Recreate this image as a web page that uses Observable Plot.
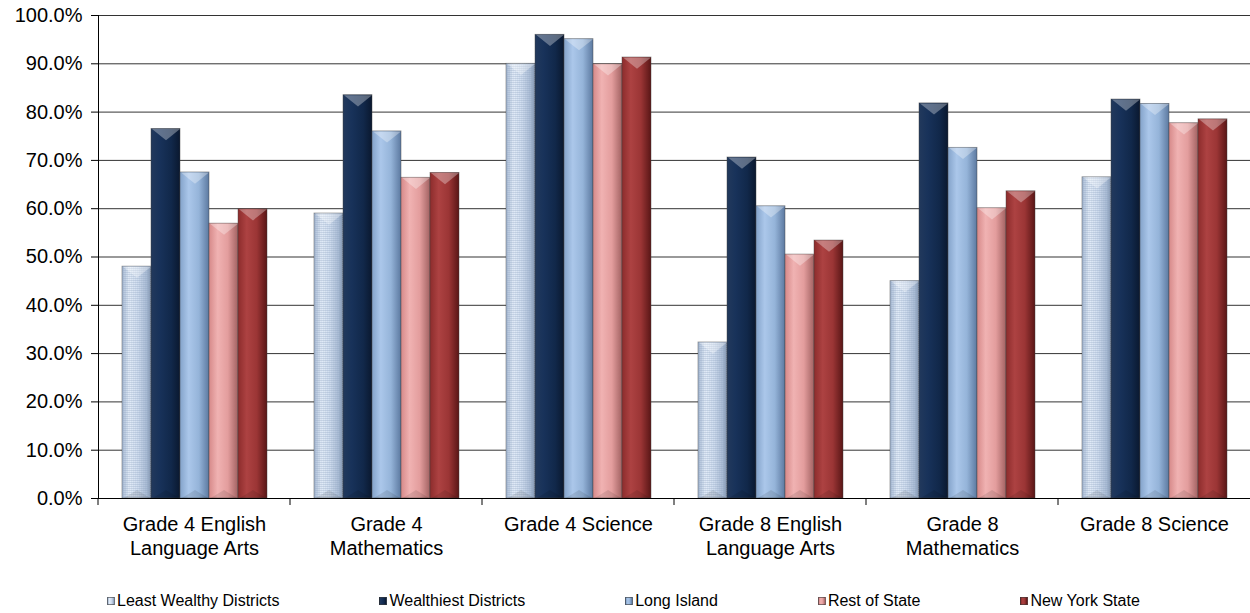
<!DOCTYPE html>
<html><head><meta charset="utf-8">
<script src="https://cdn.jsdelivr.net/npm/d3@7"></script>
<script src="https://cdn.jsdelivr.net/npm/@observablehq/plot@0.6"></script>
<style>
body{margin:0;background:#fff;font-family:"Liberation Sans",Arial,sans-serif;}
#chart{width:1250px;height:613px;position:relative;overflow:hidden;}
.legend{display:flex;gap:100px;padding-left:107px;margin-top:21px;font-size:16px;line-height:20px;color:#000;white-space:nowrap;}
.legend .item{display:flex;align-items:center;}
.legend .sw{width:8px;height:8px;margin-right:2px;box-sizing:border-box;border:0.5px solid rgba(60,60,60,0.6);}
</style></head><body><div id="chart"></div>
<script>
const categories = ["Grade 4 English Language Arts", "Grade 4 Mathematics", "Grade 4 Science", "Grade 8 English Language Arts", "Grade 8 Mathematics", "Grade 8 Science"];
const tickLabels = ["Grade 4 English\nLanguage Arts", "Grade 4\nMathematics", "Grade 4 Science", "Grade 8 English\nLanguage Arts", "Grade 8\nMathematics", "Grade 8 Science"];
const series = ["Least Wealthy Districts", "Wealthiest Districts", "Long Island", "Rest of State", "New York State"];
const leastWealthy = [0.480, 0.590, 0.900, 0.323, 0.450, 0.665];
const wealthiest   = [0.765, 0.835, 0.960, 0.706, 0.818, 0.826];
const longIsland   = [0.675, 0.760, 0.951, 0.605, 0.726, 0.817];
const restOfState  = [0.569, 0.664, 0.899, 0.505, 0.601, 0.777];
const newYorkState = [0.599, 0.674, 0.913, 0.534, 0.636, 0.785];
const yTicks = [0, 0.1, 0.2, 0.3, 0.4, 0.5, 0.6, 0.7, 0.8, 0.9, 1.0];

const seriesValues = [leastWealthy, wealthiest, longIsland, restOfState, newYorkState];
const data = [];
categories.forEach((c, ci) => series.forEach((s, si) => data.push({category: c, series: s, value: seriesValues[si][ci]})));

// gradient stops (style)
const gradStops = [
  [["0", "#a6b9d3"], ["0.25", "#e3ecf8"], ["0.55", "#d0ddef"], ["0.85", "#a9bbd4"], ["1", "#8092ad"]],
  [["0", "#22395c"], ["0.3", "#18325a"], ["0.7", "#11284a"], ["1", "#0a182f"]],
  [["0", "#84a3ca"], ["0.3", "#abc7ea"], ["0.65", "#95b4d9"], ["1", "#5c79a0"]],
  [["0", "#d68989"], ["0.3", "#f0b2b2"], ["0.65", "#e39d9d"], ["1", "#a26262"]],
  [["0", "#8c2c2c"], ["0.3", "#ad4242"], ["0.65", "#9b3535"], ["1", "#591616"]]
];

const bevelTop = {draw(ctx, size) { const r = Math.sqrt(size / Math.PI); ctx.moveTo(-r, 0); ctx.lineTo(r, 0); ctx.lineTo(0, r * 0.8); ctx.closePath(); }};
const bevelBottom = {draw(ctx, size) { const r = Math.sqrt(size / Math.PI); ctx.moveTo(-r, 0); ctx.lineTo(r, 0); ctx.lineTo(0, -r * 0.6); ctx.closePath(); }};

const boundaryTicks = (index, scales, values, dims) => {
  const x0 = scales.x && scales.x.range ? scales.x.range()[0] : dims.marginLeft;
  const yb = scales.y(0);
  const g = d3.create("svg:g");
  g.append("line").attr("x1", x0).attr("x2", x0).attr("y1", yb).attr("y2", yb + 7).attr("stroke", "#000");
  return g.node();
};

const svg = Plot.plot({
  width: 1250, height: 570,
  marginLeft: 97, marginRight: 0, marginTop: 15, marginBottom: 72,
  style: {fontFamily: "'Liberation Sans', Arial, sans-serif", fontSize: "20px", color: "#000", background: "#fff"},
  fx: {domain: categories, padding: 0, label: null},
  x: {domain: series, paddingInner: 0, paddingOuter: 0.78, axis: null},
  y: {domain: [0, 1], label: null},
  color: {domain: series, range: series.map((_, i) => `url(#grad${i})`)},
  marks: [
    Plot.gridY(yTicks, {stroke: "#000", strokeOpacity: 0.8}),
    Plot.barY(data, {fx: "category", x: "series", y: "value", fill: "series", stroke: "#404040", strokeOpacity: 0.55, strokeWidth: 0.8}),
    Plot.barY(data.filter(d => d.series === series[0]), {fx: "category", x: "series", y: "value", fill: "url(#gridpat)"}),
    Plot.dot(data, {fx: "category", x: "series", y: "value", symbol: bevelTop, r: 14, fill: "#fff", fillOpacity: 0.32, stroke: null}),
    Plot.dot(data, {fx: "category", x: "series", y: () => 0, symbol: bevelBottom, r: 14, fill: "#000", fillOpacity: 0.1, stroke: null}),
    Plot.ruleY([0], {stroke: "#000"}),
    Plot.axisY(yTicks, {tickFormat: ".1%", tickSize: 7, tickPadding: 9, label: null, fontSize: 20}),
    Plot.frame({anchor: "left", facetAnchor: "left", stroke: "#000"}),
    Plot.axisFx({anchor: "bottom", tickSize: 0, tickPadding: 15, label: null, fontSize: 20, lineHeight: 1.2,
      tickFormat: d => tickLabels[categories.indexOf(d)]}),
    boundaryTicks
  ]
});

const defs = d3.create("svg:defs");
gradStops.forEach((stops, i) => {
  const lg = defs.append("linearGradient").attr("id", `grad${i}`).attr("x1", "0").attr("x2", "1").attr("y1", "0").attr("y2", "0");
  stops.forEach(([o, c]) => lg.append("stop").attr("offset", o).attr("stop-color", c));
});
const pat = defs.append("pattern").attr("id", "gridpat").attr("patternUnits", "userSpaceOnUse").attr("width", 2).attr("height", 2);
pat.append("path").attr("d", "M0 0.5H2").attr("stroke", "#8fa3c1").attr("stroke-opacity", 0.3).attr("stroke-width", 1).attr("fill", "none");
pat.append("path").attr("d", "M0.5 0V2").attr("stroke", "#8fa3c1").attr("stroke-opacity", 0.12).attr("stroke-width", 1).attr("fill", "none");
svg.insertBefore(defs.node(), svg.firstChild);

const chart = document.getElementById("chart");
chart.appendChild(svg);

const legend = document.createElement("div");
legend.className = "legend";
series.forEach((s, i) => {
  const item = document.createElement("div");
  item.className = "item";
  const sw = document.createElement("span");
  sw.className = "sw";
  const st = gradStops[i];
  sw.style.background = `linear-gradient(to right, ${st.map(([o, c]) => `${c} ${o * 100}%`).join(", ")})`;
  const tx = document.createElement("span");
  tx.textContent = s;
  item.appendChild(sw); item.appendChild(tx);
  legend.appendChild(item);
});
chart.appendChild(legend);
</script>
</body></html>
